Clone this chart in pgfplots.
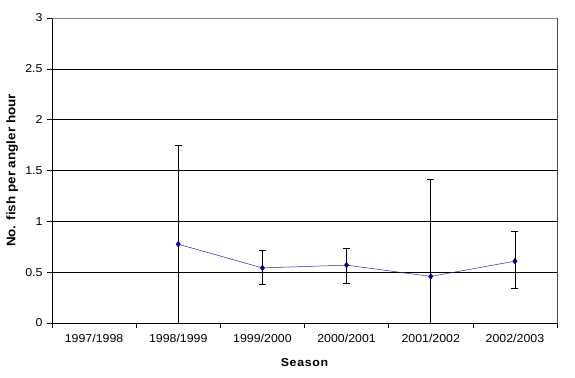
\documentclass[border=0pt]{standalone}
\usepackage{pgfplots}
\pgfplotsset{compat=1.18}
\usepackage{fontspec}
\setmainfont{Liberation Sans}[FakeStretch=1.08]
\begin{document}
\begin{tikzpicture}
\useasboundingbox (0,0) rectangle (575bp,378bp);
\begin{axis}[
  at={(52bp,55bp)}, anchor=south west,
  scale only axis, width=505bp, height=305bp,
  xmin=0.5, xmax=6.5, ymin=0, ymax=3,
  axis x line*=bottom, axis y line*=left,
  axis line style={black, line width=0.6pt},
  xtick={1,2,3,4,5,6},
  xticklabels={1997/1998,1998/1999,1999/2000,2000/2001,2001/2002,2002/2003},
  major x tick style={draw=none},
  minor xtick={0.5,1.5,2.5,3.5,4.5,5.5,6.5},
  minor x tick style={black, line width=0.6pt},
  minor tick length=5bp,
  ytick={0,0.5,1,1.5,2,2.5,3},
  yticklabels={0,0.5,1,1.5,2,2.5,3},
  major tick length=5bp,
  tick align=outside,
  ytick style={black, line width=0.6pt},
  ymajorgrids, grid style={black, line width=0.6pt},
  tick label style={font=\fontsize{11.5}{13}\selectfont},
  xticklabel style={yshift=-3bp},
  yticklabel style={xshift=-1bp},
  xlabel={\addfontfeature{LetterSpace=6}Season}, ylabel={No. fish per angler hour},
  xlabel style={font=\fontsize{11.5}{13}\selectfont\bfseries, at={(axis description cs:0.5,-0.131)}, anchor=center},
  ylabel style={font=\fontsize{12.5}{14}\selectfont\bfseries, at={(axis description cs:-0.079,0.5)}, anchor=center},
  clip mode=individual,
]
\draw[gray, line width=0.6pt] (axis cs:0.5,3) -- (axis cs:6.5,3);
\draw[black!70, line width=0.6pt] (axis cs:6.5,0) -- (axis cs:6.5,3);
\addplot[color={rgb,255:red,40;green,40;blue,150}, line width=0.5pt,
  mark=diamond*, mark size=2.8bp, mark options={fill={rgb,255:red,0;green,0;blue,128}, draw={rgb,255:red,0;green,0;blue,128}},
  error bars/.cd, y dir=both, y explicit,
  error bar style={black, line width=0.6pt},
  error mark options={rotate=90, mark size=3.5bp, black, line width=0.6pt}]
coordinates {
  (2,0.775) +- (0,0.97)
  (3,0.542) += (0,0.174) -= (0,0.160)
  (4,0.569) += (0,0.166) -= (0,0.177)
  (5,0.458) += (0,0.954) -= (0,0.954)
  (6,0.608) += (0,0.294) -= (0,0.265)
};
\end{axis}
\end{tikzpicture}
\end{document}
